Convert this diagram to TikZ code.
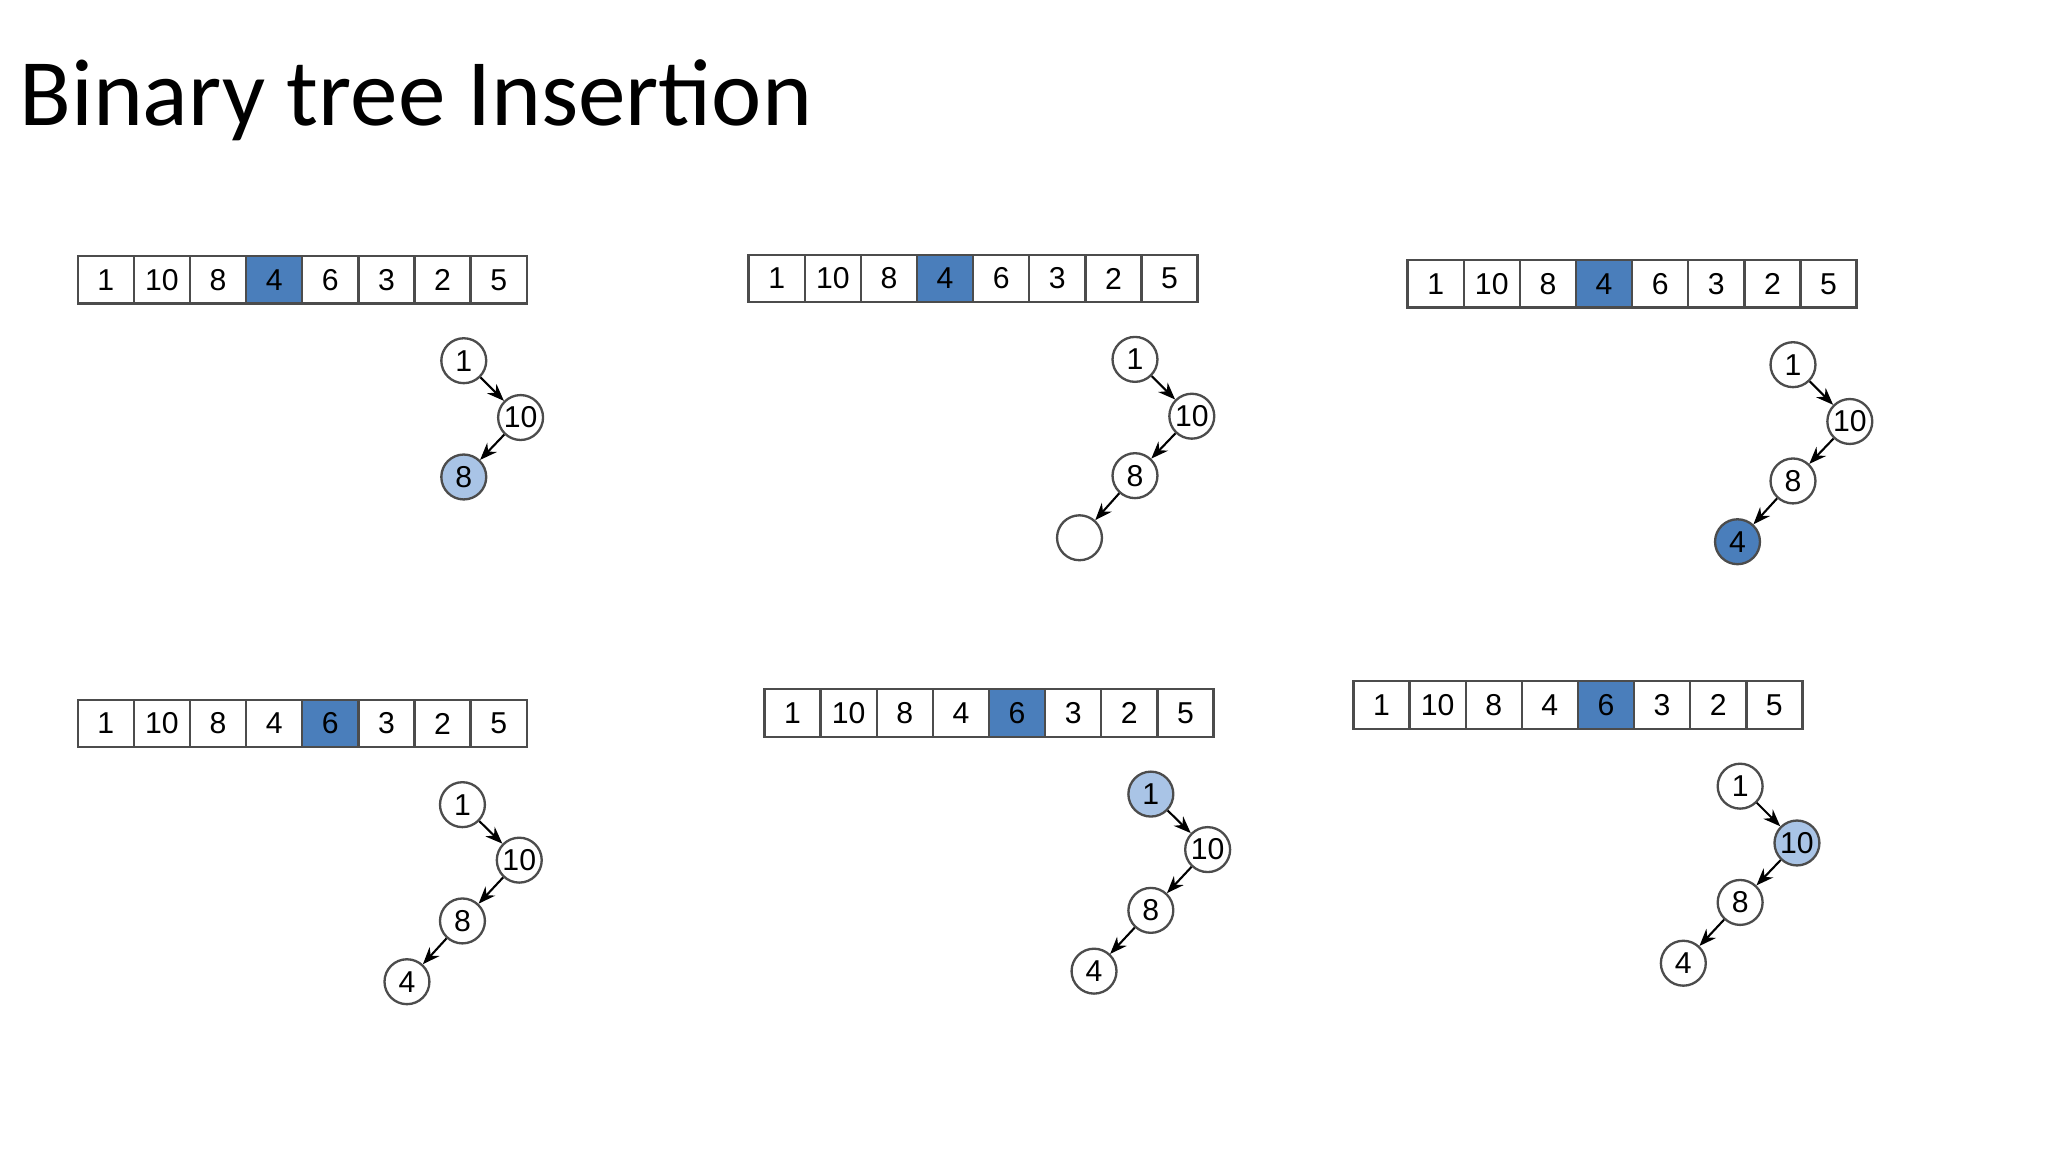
\documentclass[tikz,border=0pt]{standalone}
\usepackage{fontspec}
\setmainfont{Liberation Sans}
\newfontfamily\titlefont{Carlito}
\usetikzlibrary{arrows.meta}
\definecolor{dblue}{HTML}{4A7EBB}
\definecolor{lblue}{HTML}{A9C4E6}
\tikzset{
  cell/.style={draw=black!70,line width=0.5pt,minimum width=0.425cm,minimum height=0.36cm,inner sep=0pt,font=\fontsize{6.5pt}{7pt}\selectfont,anchor=north west},
  hcell/.style={cell,fill=dblue},
  tn/.style={circle,draw=black!70,line width=0.5pt,minimum size=0.34cm,inner sep=0pt,font=\fontsize{6.5pt}{7pt}\selectfont},
  lb/.style={tn,fill=lblue},
  db/.style={tn,fill=dblue},
  ed/.style={-{Stealth[length=1.3mm,width=1mm]},line width=0.45pt}
}
% #1 prefix, #2 x, #3 y, #4 highlighted index
\newcommand{\myarray}[4]{%
  \foreach \v [count=\i from 0] in {1,10,8,4,6,3,2,5}{
    \ifnum\i=#4
      \node[hcell] (#1c\i) at ({(#2+\i*42.5)*0.01},{-#3*0.01}) {\v};
    \else
      \node[cell] (#1c\i) at ({(#2+\i*42.5)*0.01},{-#3*0.01}) {\v};
    \fi
  }}
\begin{document}
\begin{tikzpicture}
\useasboundingbox (0,0) rectangle (15.5,-8.72);
\node[anchor=base west,inner sep=0pt,font=\titlefont\fontsize{20.5pt}{24pt}\selectfont] (title) at (0.14,-0.95) {Binary tree Insertion};
% panel 1
\myarray{a}{58}{193}{3}
\node[tn] (a1) at (3.51,-2.73) {1};
\node[tn] (a10) at (3.94,-3.16) {10};
\node[lb] (a8) at (3.51,-3.61) {8};
\draw[ed] (a1) -- (a10); \draw[ed] (a10) -- (a8);
% panel 2
\myarray{b}{566}{192}{3}
\node[tn] (b1) at (8.59,-2.72) {1};
\node[tn] (b10) at (9.02,-3.15) {10};
\node[tn] (b8) at (8.59,-3.60) {8};
\node[tn] (be) at (8.17,-4.07) {};
\draw[ed] (b1) -- (b10); \draw[ed] (b10) -- (b8); \draw[ed] (b8) -- (be);
% panel 3
\myarray{c}{1065}{196}{3}
\node[tn] (c1) at (13.57,-2.76) {1};
\node[tn] (c10) at (14.00,-3.19) {10};
\node[tn] (c8) at (13.57,-3.64) {8};
\node[db] (c4) at (13.15,-4.10) {4};
\draw[ed] (c1) -- (c10); \draw[ed] (c10) -- (c8); \draw[ed] (c8) -- (c4);
% panel 4
\myarray{d}{58}{529}{4}
\node[tn] (d1) at (3.50,-6.09) {1};
\node[tn] (d10) at (3.93,-6.51) {10};
\node[tn] (d8) at (3.50,-6.97) {8};
\node[tn] (d4) at (3.08,-7.43) {4};
\draw[ed] (d1) -- (d10); \draw[ed] (d10) -- (d8); \draw[ed] (d8) -- (d4);
% panel 5
\myarray{e}{578}{521}{4}
\node[lb] (e1) at (8.71,-6.01) {1};
\node[tn] (e10) at (9.14,-6.43) {10};
\node[tn] (e8) at (8.71,-6.89) {8};
\node[tn] (e4) at (8.28,-7.35) {4};
\draw[ed] (e1) -- (e10); \draw[ed] (e10) -- (e8); \draw[ed] (e8) -- (e4);
% panel 6
\myarray{f}{1024}{515}{4}
\node[tn] (f1) at (13.17,-5.95) {1};
\node[lb] (f10) at (13.60,-6.38) {10};
\node[tn] (f8) at (13.17,-6.83) {8};
\node[tn] (f4) at (12.74,-7.29) {4};
\draw[ed] (f1) -- (f10); \draw[ed] (f10) -- (f8); \draw[ed] (f8) -- (f4);
\end{tikzpicture}
\end{document}
